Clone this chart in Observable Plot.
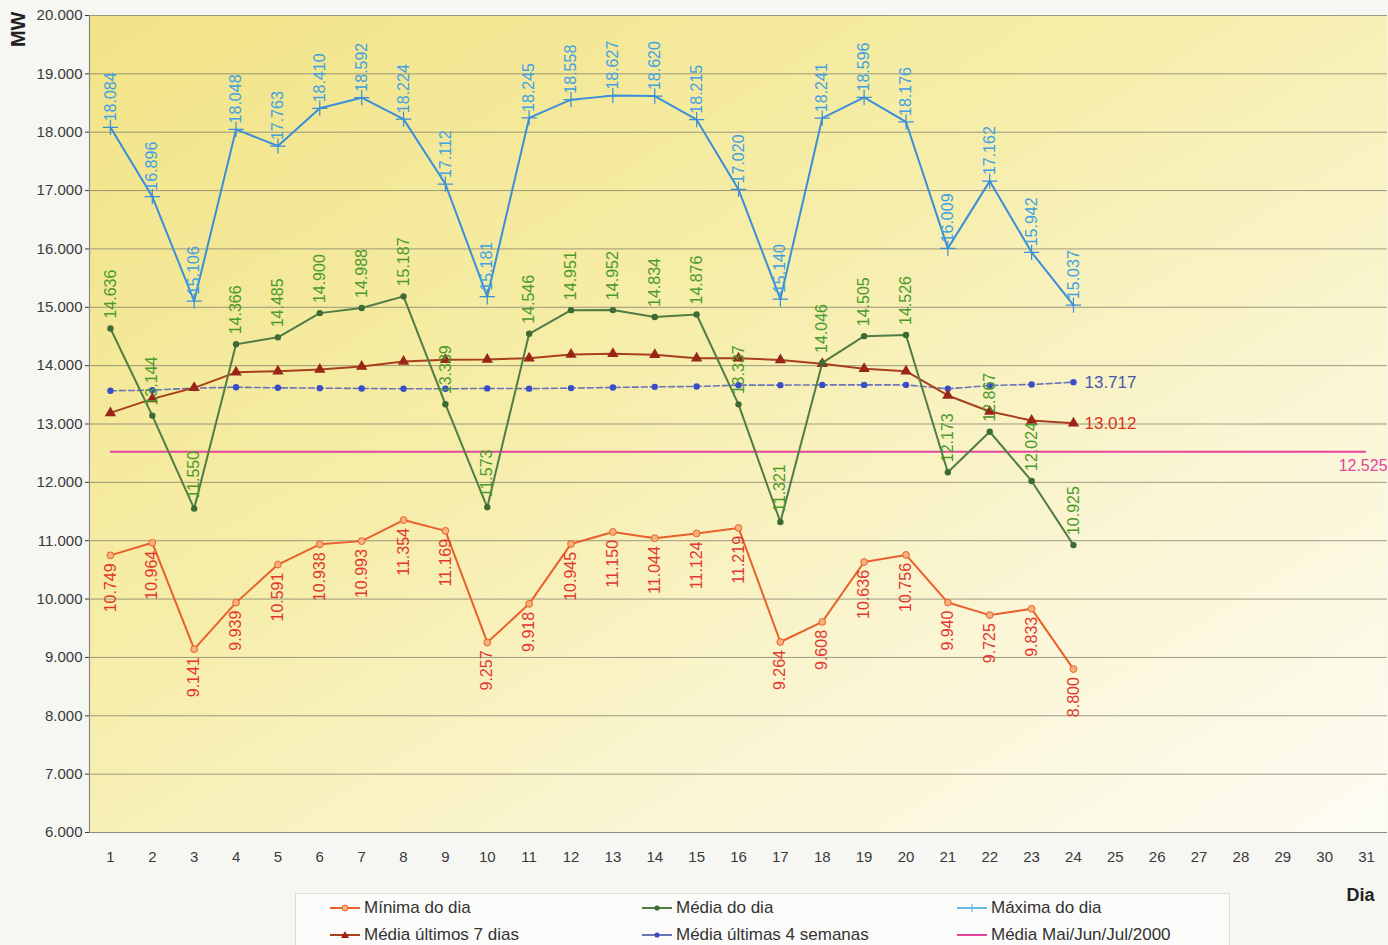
<!DOCTYPE html>
<html>
<head>
<meta charset="utf-8">
<script src="https://cdn.jsdelivr.net/npm/d3@7"></script>
<script src="https://cdn.jsdelivr.net/npm/@observablehq/plot@0.6"></script>
<style>
  body { margin: 0; background: #f6f6f3; font-family: "Liberation Sans", Arial, sans-serif; }
  #wrap { position: relative; width: 1388px; height: 945px; overflow: hidden; }
  #legend { position: absolute; left: 295px; top: 893px; width: 935px; height: 70px;
            border: 1px solid #deded8; background: #fbfbf9; box-sizing: border-box; }
  .item { position: absolute; display: flex; align-items: center; font-size: 17px; color: #333; white-space: nowrap; }
  .item svg { margin-right: 3px; }
</style>
</head>
<body>
<div id="wrap">
  <div id="chart"></div>
  <div id="legend"></div>
</div>
<script>
// ---- data ----
const dataDays = [1,2,3,4,5,6,7,8,9,10,11,12,13,14,15,16,17,18,19,20,21,22,23,24];
const xTicks = [1,2,3,4,5,6,7,8,9,10,11,12,13,14,15,16,17,18,19,20,21,22,23,24,25,26,27,28,29,30,31];
const yTicks = [6000,7000,8000,9000,10000,11000,12000,13000,14000,15000,16000,17000,18000,19000,20000];
const maxima = [18084,16896,15106,18048,17763,18410,18592,18224,17112,15181,18245,18558,18627,18620,18215,17020,15140,18241,18596,18176,16009,17162,15942,15037];
const mediaDia = [14636,13144,11550,14366,14485,14900,14988,15187,13339,11573,14546,14951,14952,14834,14876,13337,11321,14046,14505,14526,12173,12867,12024,10925];
const minima = [10749,10964,9141,9939,10591,10938,10993,11354,11169,9257,9918,10945,11150,11044,11124,11219,9264,9608,10636,10756,9940,9725,9833,8800];
const media7 = [13190,13430,13620,13885,13905,13935,13985,14070,14100,14105,14128,14190,14203,14186,14128,14128,14095,14032,13946,13905,13489,13214,13060,13012];
const media4s = [13569,13580,13615,13630,13620,13614,13609,13603,13603,13610,13606,13615,13626,13637,13643,13666,13666,13670,13670,13670,13603,13660,13677,13717];
const mediaRef = [12525];
const legendNames = ["Mínima do dia","Média do dia","Máxima do dia","Média últimos 7 dias","Média últimas 4 semanas","Média Mai/Jun/Jul/2000"];

// ---- styling ----
const C = {
  max: "#3a8fd8", maxLbl: "#3fa2e2",
  med: "#4f7d45", medDot: "#3d6b35", medLbl: "#4a9a2c",
  min: "#e8602c", minFill: "#f6b27a", minLbl: "#e2362e",
  m7: "#a8401e", m7Dot: "#9a2416", m7Lbl: "#d8331f",
  m4: "#6c74b6", m4Dot: "#3a4cc8", m4Lbl: "#4858aa",
  ref: "#e3449e"
};
const loc = d3.formatLocale({decimal: ",", thousands: ".", grouping: [3], currency: ["", ""]});
const fmt = loc.format(",.0f");
const X = (d, i) => dataDays[i];
const Y = d => d;
const font = "'Liberation Sans', Arial, sans-serif";

const chart = Plot.plot({
  width: 1388, height: 905,
  marginLeft: 89, marginRight: 1, marginTop: 15, marginBottom: 73,
  style: {fontFamily: font, fontSize: "15px", color: "#3a3a3a", background: "#f6f6f3", overflow: "visible"},
  x: {domain: [0.5, 31.5], ticks: xTicks, tickFormat: d => d, tickSize: 0, tickPadding: 19, label: null},
  y: {domain: [6000, 20000], ticks: yTicks, tickFormat: fmt, tickSize: 4, tickPadding: 3, label: null},
  marks: [
    Plot.frame({fill: "url(#bgGrad)", stroke: null}),
    Plot.gridY(yTicks, {stroke: "#86826e", strokeOpacity: 0.8, strokeWidth: 1}),
    Plot.ruleX([0.5], {stroke: "#8a8a86", strokeWidth: 1.2}),
    Plot.ruleY([6000], {stroke: "#8a8a86", strokeWidth: 1.2}),
    // reference average
    Plot.ruleY(mediaRef, {x1: xTicks[0], x2: xTicks[xTicks.length - 1], stroke: C.ref, strokeWidth: 2}),
    // 4 weeks
    Plot.line(media4s, {x: X, y: Y, stroke: C.m4, strokeWidth: 1.6, strokeDasharray: "6,3"}),
    Plot.dot(media4s, {x: X, y: Y, r: 3.2, fill: C.m4Dot, stroke: null}),
    // 7 days
    Plot.line(media7, {x: X, y: Y, stroke: C.m7, strokeWidth: 2}),
    Plot.dot(media7, {x: X, y: Y, symbol: "triangle", r: 4.2, fill: C.m7Dot, stroke: null}),
    // maxima
    Plot.line(maxima, {x: X, y: Y, stroke: C.max, strokeWidth: 2}),
    Plot.dot(maxima, {x: X, y: Y, symbol: "plus", r: 5, stroke: C.max, strokeWidth: 1.2}),
    // media do dia
    Plot.line(mediaDia, {x: X, y: Y, stroke: C.med, strokeWidth: 2}),
    Plot.dot(mediaDia, {x: X, y: Y, r: 3.2, fill: C.medDot, stroke: null}),
    // minima
    Plot.line(minima, {x: X, y: Y, stroke: C.min, strokeWidth: 2}),
    Plot.dot(minima, {x: X, y: Y, r: 3.4, fill: C.minFill, stroke: C.min, strokeWidth: 1}),
    // value labels
    Plot.text(maxima, {x: X, y: Y, text: fmt, rotate: -90, textAnchor: "start", dy: -6, fill: C.maxLbl, fontSize: 16}),
    Plot.text(mediaDia, {x: X, y: Y, text: fmt, rotate: -90, textAnchor: "start", dy: -10, fill: C.medLbl, fontSize: 16}),
    Plot.text(minima, {x: X, y: Y, text: fmt, rotate: -90, textAnchor: "end", dy: 8, fill: C.minLbl, fontSize: 16}),
    Plot.text(media4s.slice(-1), {x: dataDays[dataDays.length - 1], y: Y, text: fmt, textAnchor: "start", dx: 11, fill: C.m4Lbl, fontSize: 17}),
    Plot.text(media7.slice(-1), {x: dataDays[dataDays.length - 1], y: Y, text: fmt, textAnchor: "start", dx: 11, fill: C.m7Lbl, fontSize: 17}),
    Plot.text(mediaRef, {x: xTicks[xTicks.length - 1], y: Y, text: fmt, textAnchor: "end", dx: 21, dy: 14, fill: C.ref, fontSize: 16}),
    // axis titles
    Plot.text(["MW"], {frameAnchor: "top-left", text: d => d, rotate: -90, textAnchor: "end", lineAnchor: "middle", dx: -71, dy: -4, fontWeight: "bold", fontSize: 20, fill: "#222"}),
    Plot.text(["Dia"], {frameAnchor: "bottom-right", text: d => d, textAnchor: "middle", lineAnchor: "middle", dx: -27, dy: 63, fontWeight: "bold", fontSize: 18, fill: "#222"})
  ]
});

d3.select(chart).insert("defs", ":first-child").html(
  `<linearGradient id="bgGrad" x1="0" y1="0" x2="1" y2="1">
     <stop offset="0" stop-color="#f1e386"/>
     <stop offset="0.4" stop-color="#f6eda8"/>
     <stop offset="0.7" stop-color="#faf5d2"/>
     <stop offset="1" stop-color="#fdfcf3"/>
   </linearGradient>`);
document.getElementById("chart").appendChild(chart);

// ---- legend ----
const legendSpec = [
  {stroke: C.min, marker: "circle", fill: C.minFill, mstroke: C.min},
  {stroke: C.med, marker: "dot", fill: C.medDot},
  {stroke: "#6ab8e8", marker: "plus", mstroke: "#6ab8e8"},
  {stroke: C.m7, marker: "triangle", fill: C.m7Dot},
  {stroke: C.m4, marker: "dot", fill: C.m4Dot},
  {stroke: C.ref, marker: null}
];
const colX = [33, 345, 660];
const rowY = [15, 42];
const legend = document.getElementById("legend");
legendNames.forEach((name, i) => {
  const s = legendSpec[i];
  const div = document.createElement("div");
  div.className = "item";
  div.style.left = colX[i % 3] + "px";
  div.style.top = (rowY[Math.floor(i / 3)] - 11) + "px";
  let m = "";
  if (s.marker === "circle") m = `<circle cx="16" cy="7" r="3" fill="${s.fill}" stroke="${s.mstroke}"/>`;
  if (s.marker === "dot") m = `<circle cx="16" cy="7" r="2.6" fill="${s.fill}"/>`;
  if (s.marker === "plus") m = `<path d="M16,3V11M12,7H20" stroke="${s.mstroke}" stroke-width="1.2"/>`;
  if (s.marker === "triangle") m = `<path d="M16,3L20,10H12Z" fill="${s.fill}"/>`;
  div.innerHTML = `<svg width="32" height="14"><line x1="1" x2="31" y1="7" y2="7" stroke="${s.stroke}" stroke-width="2"/>${m}</svg><span>${name}</span>`;
  legend.appendChild(div);
});
</script>
</body>
</html>
